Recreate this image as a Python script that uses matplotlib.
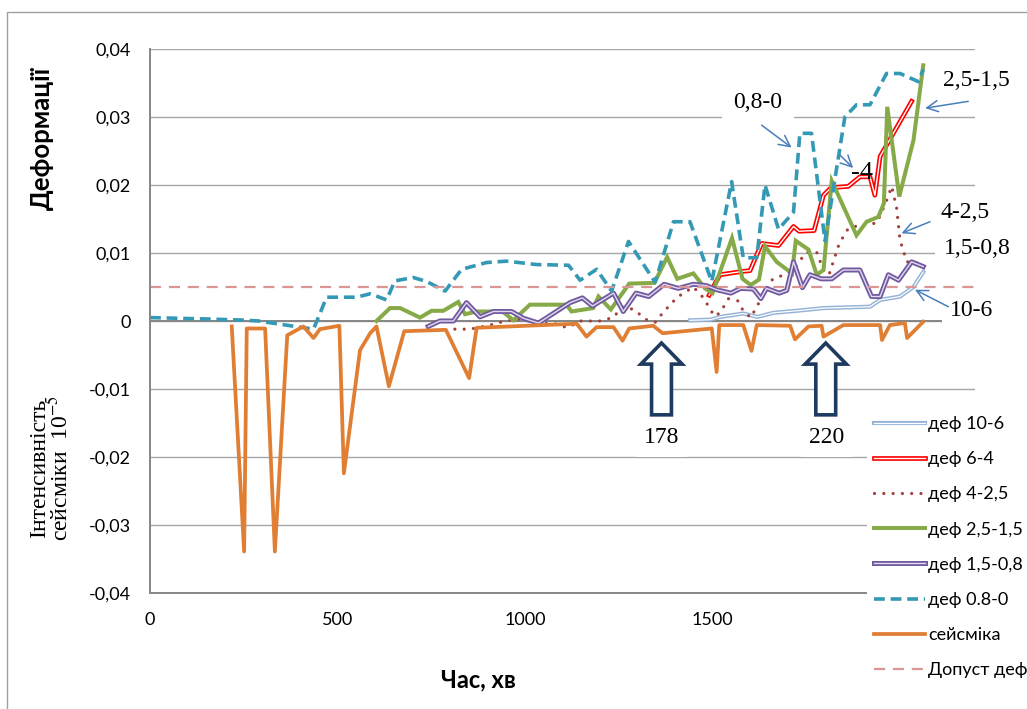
import matplotlib
matplotlib.use("Agg")
import matplotlib.pyplot as plt
import matplotlib.patheffects as pe
from matplotlib.patches import FancyArrow, Rectangle
from matplotlib.ticker import FuncFormatter, MultipleLocator

plt.rcParams['font.family'] = ['Lato', 'DejaVu Sans']
plt.rcParams['mathtext.fontset'] = 'stix'

# деф 10-6
t_10_6 = [1440, 1496, 1520, 1582, 1620, 1662, 1724, 1796, 1920, 1947, 2000, 2036, 2062]
d_10_6 = [0.0001, 0.0002, 0.0006, 0.0011, 0.0006, 0.0012, 0.0015, 0.0019, 0.0021, 0.0031, 0.0036, 0.0050, 0.0072]

# деф 6-4
t_6_4 = [1491, 1502, 1520, 1580, 1600, 1631, 1676, 1716, 1731, 1771, 1796, 1816, 1862, 1893, 1920, 1933, 1947, 2031]
d_6_4 = [0.0038, 0.0050, 0.0068, 0.0073, 0.0074, 0.0114, 0.0111, 0.0139, 0.0132, 0.0133, 0.0185, 0.0196, 0.0198,
         0.0212, 0.0212, 0.0185, 0.0242, 0.0323]

# деф 4-2,5
t_4_25 = [813, 853, 907, 947, 987, 1031, 1080, 1113, 1147, 1200, 1234, 1262, 1289, 1324, 1347, 1369, 1406, 1449,
          1476, 1505, 1520, 1554, 1582, 1602, 1627, 1657, 1698, 1724, 1750, 1778, 1806, 1838, 1862, 1893, 1938,
          1960, 1978, 1991, 2000, 2018, 2040, 2062]
d_4_25 = [-0.0012, -0.0012, -0.0006, 0.0, 0.0003, -0.0003, -0.0004, -0.0010, 0.0, 0.0, 0.0005, 0.0021, 0.0017,
          0.0002, -0.0002, 0.0013, 0.0035, 0.0050, 0.0034, 0.0007, 0.0012, 0.0043, 0.0015, 0.0005, 0.0030, 0.0060,
          0.0070, 0.0082, 0.0101, 0.0101, 0.0060, 0.0114, 0.0136, 0.0141, 0.0144, 0.0171, 0.0198, 0.0166, 0.0119,
          0.0087, 0.0087, 0.0080]

# деф 2,5-1,5
t_25_15 = [604, 640, 667, 720, 751, 782, 822, 840, 871, 940, 969, 1013, 1111, 1124, 1182, 1196, 1229, 1278, 1345,
           1379, 1406, 1449, 1480, 1500, 1552, 1580, 1602, 1624, 1640, 1671, 1712, 1722, 1756, 1778, 1796, 1818,
           1884, 1911, 1942, 1957, 1966, 1998, 2036, 2062]
d_25_15 = [0.0, 0.0019, 0.0019, 0.0005, 0.0015, 0.0015, 0.0028, 0.0010, 0.0014, 0.0014, 0.0001, 0.0024, 0.0024,
           0.0014, 0.0019, 0.0036, 0.0017, 0.0055, 0.0056, 0.0094, 0.0062, 0.0070, 0.0048, 0.0041, 0.0122, 0.0062,
           0.0053, 0.0061, 0.0110, 0.0087, 0.0070, 0.0118, 0.0105, 0.0068, 0.0075, 0.0206, 0.0126, 0.0146, 0.0153,
           0.0173, 0.0315, 0.0183, 0.0266, 0.0376]

# деф 1,5-0,8
t_15_08 = [742, 773, 809, 844, 880, 916, 964, 996, 1036, 1120, 1153, 1180, 1236, 1262, 1296, 1330, 1371, 1409, 1449,
           1484, 1511, 1549, 1575, 1609, 1629, 1644, 1678, 1698, 1716, 1740, 1760, 1790, 1818, 1849, 1893, 1924,
           1947, 1969, 1996, 2031, 2062]
d_15_08 = [-0.0008, 0.0, 0.0, 0.0027, 0.0006, 0.0014, 0.0014, 0.0004, -0.0003, 0.0027, 0.0034, 0.0022, 0.0041,
           0.0014, 0.0041, 0.0036, 0.0054, 0.0048, 0.0054, 0.0052, 0.0046, 0.0041, 0.0048, 0.0047, 0.0033, 0.0048,
           0.0041, 0.0045, 0.0087, 0.0049, 0.0068, 0.0062, 0.0062, 0.0075, 0.0075, 0.0036, 0.0036, 0.0068, 0.0060,
           0.0087, 0.0080]

# деф 0.8-0
t_08_0 = [0, 150, 240, 290, 350, 436, 471, 551, 587, 631, 653, 702, 738, 787, 831, 898, 951, 1031, 1116, 1147,
          1191, 1231, 1276, 1347, 1396, 1440, 1498, 1551, 1582, 1618, 1640, 1676, 1716, 1733, 1764, 1800, 1853,
          1884, 1920, 1964, 2000, 2049, 2062]
d_08_0 = [0.0005, 0.0003, 0.00015, 0.0, -0.0005, -0.0012, 0.0035, 0.0035, 0.0040, 0.0031, 0.0059, 0.0064, 0.0058,
          0.0044, 0.0076, 0.0086, 0.0088, 0.0083, 0.0082, 0.0060, 0.0076, 0.0044, 0.0117, 0.0057, 0.0146, 0.0146,
          0.0058, 0.0205, 0.0093, 0.0093, 0.0200, 0.0135, 0.0160, 0.0276, 0.0276, 0.0118, 0.0300, 0.0318, 0.0318,
          0.0364, 0.0364, 0.0352, 0.0370]

# сейсміка
t_seis = [218, 251, 258, 307, 333, 366, 409, 436, 453, 505, 517, 560, 587, 604, 637, 678, 789, 851, 871, 1138,
          1164, 1191, 1236, 1260, 1278, 1342, 1367, 1498, 1511, 1518, 1582, 1604, 1618, 1707, 1720, 1756, 1791,
          1796, 1849, 1947, 1952, 1973, 2013, 2019, 2062]
d_seis = [-0.0008, -0.0339, -0.0011, -0.0011, -0.0339, -0.0021, -0.0008, -0.0025, -0.0012, -0.0007, -0.0224,
          -0.0043, -0.0018, -0.0008, -0.0096, -0.0015, -0.0013, -0.0084, -0.0010, -0.0004, -0.0023, -0.0009,
          -0.0009, -0.0029, -0.0011, -0.0007, -0.0018, -0.0011, -0.0075, -0.0006, -0.0006, -0.0044, -0.0006,
          -0.0007, -0.0027, -0.0008, -0.0007, -0.0023, -0.0006, -0.0006, -0.0028, -0.0006, -0.0003, -0.0025,
          -0.0001]

# Допуст деф
t_allow = [0, 2200]
d_allow = [0.005, 0.005]

labels = ["деф 10-6", "деф 6-4", "деф 4-2,5", "деф 2,5-1,5", "деф 1,5-0,8", "деф 0.8-0", "сейсміка", "Допуст деф"]

fig = plt.figure(figsize=(10.27, 7.09), dpi=100)
ax = fig.add_axes([150 / 1027, 116 / 709, 825 / 1027, 544 / 709])

lines = []
lines += ax.plot(t_10_6, d_10_6, color="white", lw=0.9,
                 path_effects=[pe.Stroke(linewidth=3.0, foreground="#95B3D7"), pe.Normal()])
lines += ax.plot(t_6_4, d_6_4, color="white", lw=1.0,
                 path_effects=[pe.Stroke(linewidth=3.4, foreground="#FF0000"), pe.Normal()])
lines += ax.plot(t_4_25, d_4_25, color="#A33E3B", lw=2.3, linestyle=(0, (0.01, 2.9)), dash_capstyle="round")
lines += ax.plot(t_25_15, d_25_15, color="#86AA47", lw=2.9, solid_joinstyle="miter")
lines += ax.plot(t_15_08, d_15_08, color="#E2DAEE", lw=1.0,
                 path_effects=[pe.Stroke(linewidth=3.6, foreground="#7159A0"), pe.Normal()])
lines += ax.plot(t_08_0, d_08_0, color="#3499B5", lw=2.6, linestyle=(0, (3.0, 1.6)))
lines += ax.plot(t_seis, d_seis, color="#E07E33", lw=2.7)
lines += ax.plot(t_allow, d_allow, color="#D99694", lw=1.6, linestyle=(0, (5, 3.5)))

ax.set_xlim(0, 2200)
ax.set_ylim(-0.04, 0.04)
ax.xaxis.set_major_locator(MultipleLocator(500))
ax.yaxis.set_major_locator(MultipleLocator(0.01))


def y_fmt(v, pos):
    if abs(v) < 1e-9:
        return "0"
    return f"{v:.2f}".replace(".", ",")


ax.yaxis.set_major_formatter(FuncFormatter(y_fmt))
ax.xaxis.set_major_formatter(FuncFormatter(lambda v, p: f"{v:.0f}"))
ax.tick_params(axis="both", length=0, labelsize=13, colors="black")
ax.tick_params(axis="x", pad=14)
ax.tick_params(axis="y", pad=14)

ax.grid(axis="y", color="#A6A6A6", lw=1.0)
ax.set_axisbelow(True)
ax.axhline(0, color="#868686", lw=1.4, zorder=1.5)
for s in ["top", "right"]:
    ax.spines[s].set_visible(False)
for s in ["left", "bottom"]:
    ax.spines[s].set_color("#868686")
    ax.spines[s].set_linewidth(1.4)

# block arrows
for xc in [1364, 1802]:
    ax.add_patch(FancyArrow(xc, -0.0138, 0, 0.01056, width=53, head_width=110, head_length=0.0031,
                            length_includes_head=True, facecolor="white", edgecolor="#1F3A5F", lw=2.6,
                            zorder=6))

serif = ["Liberation Serif", "DejaVu Serif"]
box = dict(facecolor="white", edgecolor="none", boxstyle="square,pad=0.35")
ax.text(1364, -0.0172, "178", family=serif, fontsize=17, ha="center", va="center", bbox=box, zorder=7)
ax.text(1805, -0.0172, "220", family=serif, fontsize=17, ha="center", va="center", bbox=box, zorder=7)
ax.text(1621, 0.0322, "0,8-0", family=serif, fontsize=17, ha="center", va="center",
        bbox=dict(facecolor="white", edgecolor="none", boxstyle="square,pad=0.5"), zorder=7)
ax.text(2203, 0.0353, "2,5-1,5", family=serif, fontsize=17, ha="center", va="center", zorder=7)
ax.text(1899, 0.0218, "-4", family=serif, fontsize=19, ha="center", va="center", zorder=7)
ax.text(2173, 0.0160, "4-2,5", family=serif, fontsize=17, ha="center", va="center", zorder=7)
ax.text(2205, 0.0107, "1,5-0,8", family=serif, fontsize=17, ha="center", va="center", bbox=box, zorder=7)
ax.text(2192, 0.0016, "10-6", family=serif, fontsize=17, ha="center", va="center", bbox=box, zorder=7)

arrow_kw = dict(arrowstyle="->,head_length=0.8,head_width=0.4", color="#4A7EBB", lw=1.1,
                shrinkA=0, shrinkB=0)
for tail, tip in [((1631, 0.0288), (1711, 0.0255)),
                  ((1840, 0.0244), (1875, 0.0225)),
                  ((2182, 0.0323), (2067, 0.0313)),
                  ((2080, 0.0146), (2004, 0.0129)),
                  ((2129, 0.0021), (2040, 0.0046))]:
    ax.annotate("", xy=tip, xytext=tail, arrowprops=arrow_kw, annotation_clip=False, zorder=7)

leg = fig.legend(lines, labels, loc="upper left", bbox_to_anchor=(867 / 1027, 1 - 409 / 709),
                 fontsize=13, frameon=True, fancybox=False, framealpha=1, facecolor="white",
                 edgecolor="none", labelspacing=1.06, handlelength=2.8, handletextpad=0.2,
                 borderpad=0.4, borderaxespad=0)
leg.set_zorder(10)

fig.text(42 / 1027, 1 - 138 / 709, "Деформації", rotation=90, fontsize=18.5, fontweight="bold",
         ha="center", va="center")
fig.text(51 / 1027, 1 - 468 / 709, "Інтенсивність\nсейсміки  10$^{-5}$", rotation=90, fontsize=17,
         family=serif, ha="center", va="center", multialignment="center", linespacing=0.85)
fig.text(478 / 1027, 1 - 680 / 709, "Час, хв", fontsize=17, fontweight="bold", ha="center", va="center")

fig.add_artist(Rectangle((7 / 1027, -0.05), 1.0, 1.05 - 12 / 709, transform=fig.transFigure,
                         fill=False, edgecolor="#A0A0A0", lw=1.0))

fig.savefig("out.png", dpi=100)
